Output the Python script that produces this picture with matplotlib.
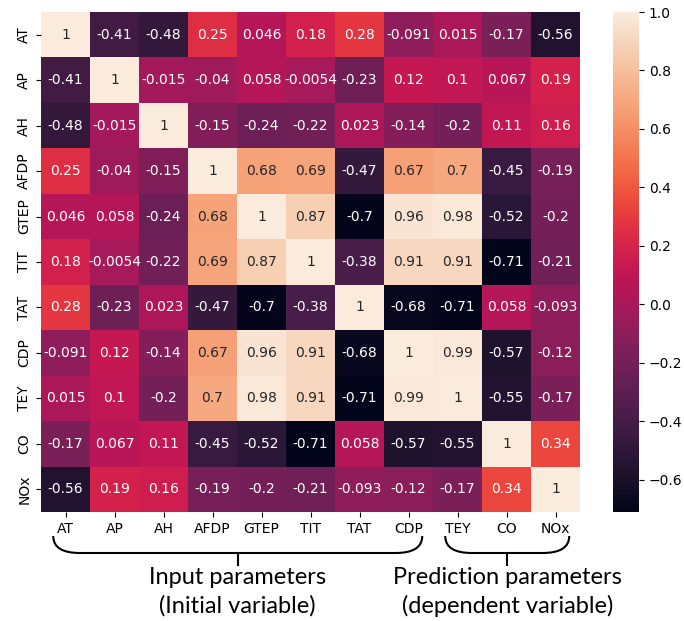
import numpy as np
import pandas as pd
import matplotlib
matplotlib.use("Agg")
import matplotlib.pyplot as plt
import matplotlib.transforms as mtransforms
from matplotlib.path import Path
from matplotlib.patches import PathPatch
import seaborn as sns

labels = ["AT", "AP", "AH", "AFDP", "GTEP", "TIT", "TAT", "CDP", "TEY", "CO", "NOx"]

r_AT   = [1, -0.41, -0.48, 0.25, 0.046, 0.18, 0.28, -0.091, 0.015, -0.17, -0.56]
r_AP   = [-0.41, 1, -0.015, -0.04, 0.058, -0.0054, -0.23, 0.12, 0.1, 0.067, 0.19]
r_AH   = [-0.48, -0.015, 1, -0.15, -0.24, -0.22, 0.023, -0.14, -0.2, 0.11, 0.16]
r_AFDP = [0.25, -0.04, -0.15, 1, 0.68, 0.69, -0.47, 0.67, 0.7, -0.45, -0.19]
r_GTEP = [0.046, 0.058, -0.24, 0.68, 1, 0.87, -0.7, 0.96, 0.98, -0.52, -0.2]
r_TIT  = [0.18, -0.0054, -0.22, 0.69, 0.87, 1, -0.38, 0.91, 0.91, -0.71, -0.21]
r_TAT  = [0.28, -0.23, 0.023, -0.47, -0.7, -0.38, 1, -0.68, -0.71, 0.058, -0.093]
r_CDP  = [-0.091, 0.12, -0.14, 0.67, 0.96, 0.91, -0.68, 1, 0.99, -0.57, -0.12]
r_TEY  = [0.015, 0.1, -0.2, 0.7, 0.98, 0.91, -0.71, 0.99, 1, -0.55, -0.17]
r_CO   = [-0.17, 0.067, 0.11, -0.45, -0.52, -0.71, 0.058, -0.57, -0.55, 1, 0.34]
r_NOx  = [-0.56, 0.19, 0.16, -0.19, -0.2, -0.21, -0.093, -0.12, -0.17, 0.34, 1]

groups = [("Input parameters", "(Initial variable)", 0, 7),
          ("Prediction parameters", "(dependent variable)", 8, 10)]

corr = pd.DataFrame([r_AT, r_AP, r_AH, r_AFDP, r_GTEP, r_TIT, r_TAT,
                     r_CDP, r_TEY, r_CO, r_NOx], index=labels, columns=labels)

W, H = 684, 621
fig = plt.figure(figsize=(W / 100, H / 100), dpi=100)
ax = fig.add_axes([41 / W, 1 - 512 / H, 539 / W, 500 / H])
cax = fig.add_axes([613 / W, 1 - 512 / H, 26 / W, 500 / H])

sns.heatmap(corr, annot=True, ax=ax, cbar_ax=cax, annot_kws={"size": 10})
ax.tick_params(labelsize=10)
ax.set_yticklabels(labels, rotation=90, va="center")
ax.set_xticklabels(labels, rotation=0)
cax.tick_params(labelsize=10)
cax.set_yticks([-0.6, -0.4, -0.2, 0.0, 0.2, 0.4, 0.6, 0.8, 1.0])

# braces below the x tick labels (x in data units, y in figure fraction)
trans = mtransforms.blended_transform_factory(ax.transData, fig.transFigure)
y_top = 1 - 536 / H
y_bot = 1 - 553 / H
y_stem = 1 - 565 / H
dx = 0.55
for line1, line2, c0, c1 in groups:
    x0 = c0 + 0.25
    x1 = c1 + 0.78
    xc = (x0 + x1) / 2
    verts = [(x0, y_top), (x0, y_bot + 0.3 * (y_top - y_bot)), (x0 + 0.2, y_bot), (x0 + dx, y_bot),
             (x1 - dx, y_bot),
             (x1 - 0.2, y_bot), (x1, y_bot + 0.3 * (y_top - y_bot)), (x1, y_top)]
    codes = [Path.MOVETO, Path.CURVE4, Path.CURVE4, Path.CURVE4,
             Path.LINETO,
             Path.CURVE4, Path.CURVE4, Path.CURVE4]
    ax.add_patch(PathPatch(Path(verts, codes), transform=trans, fill=False,
                           lw=1.5, color="black", clip_on=False))
    ax.plot([xc, xc], [y_bot, y_stem], transform=trans, color="black",
            lw=1.5, clip_on=False)
    ax.text(xc, 1 - 577 / H, line1, transform=trans, ha="center", va="center",
            fontsize=17, family="Lato")
    ax.text(xc, 1 - 606 / H, line2, transform=trans, ha="center", va="center",
            fontsize=17, family="Lato")

fig.savefig("out.png", dpi=100)
